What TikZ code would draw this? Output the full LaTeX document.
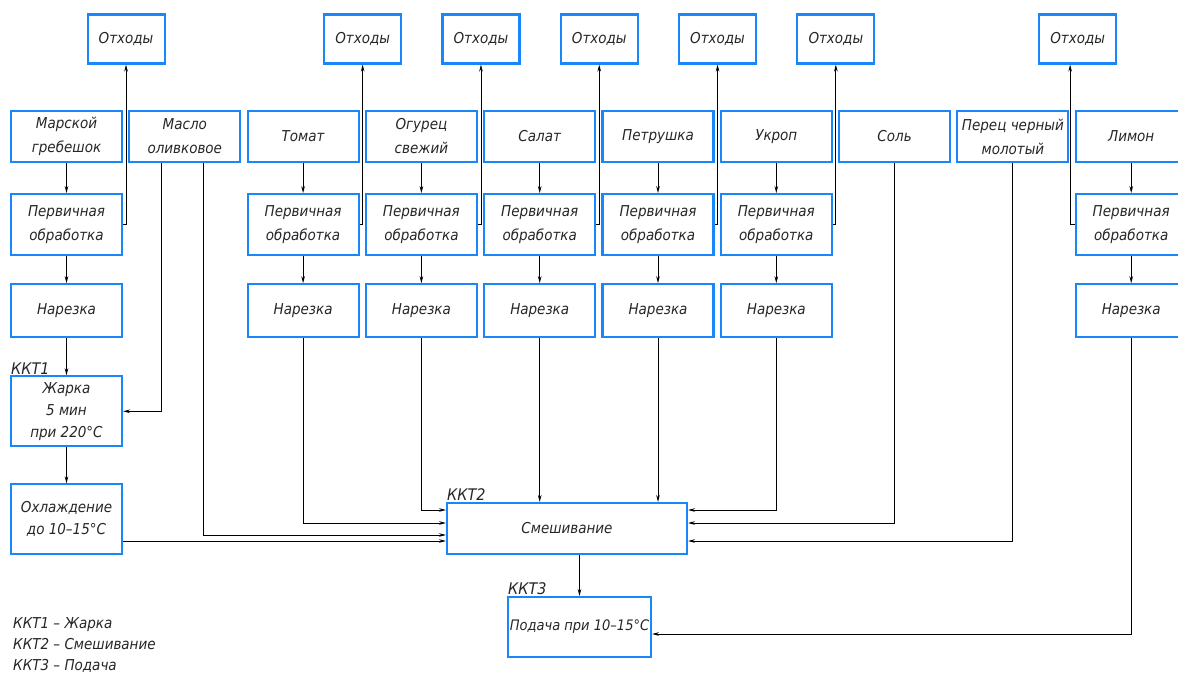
\documentclass[tikz,border=0pt]{standalone}
\usepackage{fontspec}
\setmainfont{DejaVu Sans Condensed}
\usepackage{tikz}
\usetikzlibrary{arrows.meta, positioning}
\definecolor{boxblue}{RGB}{25,135,250}

\begin{document}
\begin{tikzpicture}[x=1pt, y=-1pt, node distance=30pt and 5.2pt, >={Stealth[length=7pt,width=3.6pt]},
    font=\fontsize{15}{24}\selectfont\itshape]
    \tikzstyle{box} = [rectangle, draw=boxblue, line width=2.1pt, align=center, inner sep=1pt, text=black!85]
    \tikzstyle{food} = [box, minimum width=111pt, minimum height=51pt]
    \tikzstyle{prim} = [box, minimum width=111pt, minimum height=61pt]
    \tikzstyle{cut} = [box, minimum width=111pt, minimum height=53pt]
    \tikzstyle{waste} = [box, minimum width=77pt, minimum height=49pt]
    \tikzstyle{heat} = [box, minimum width=111pt, minimum height=70pt, font=\fontsize{15}{22}\selectfont\itshape]
    \tikzstyle{ccp} = [anchor=south west, inner sep=1pt, text=black!85, font=\fontsize{16}{18}\selectfont\itshape]
    \tikzstyle{link} = [->, line width=0.9pt]

    \useasboundingbox (0,0) rectangle (1178,679);

    % ingredients
    \node (scallop)  [food] at (66.5,136.5)      {Марской\\гребешок};
    \node (oil)      [food, right=of scallop]    {Масло\\оливковое};
    \node (tomato)   [food, right=of oil]        {Томат};
    \node (cucumber) [food, right=of tomato]     {Огурец\\свежий};
    \node (salad)    [food, right=of cucumber]   {Салат};
    \node (parsley)  [food, right=of salad]      {Петрушка};
    \node (dill)     [food, right=of parsley]    {Укроп};
    \node (salt)     [food, right=of dill]       {Соль};
    \node (pepper)   [food, right=of salt]       {Перец черный\\молотый};
    \node (lemon)    [food, right=of pepper]     {Лимон};

    % primary treatment
    \node (pscallop)  [prim, below=of scallop]  {Первичная\\обработка};
    \node (ptomato)   [prim, below=of tomato]   {Первичная\\обработка};
    \node (pcucumber) [prim, below=of cucumber] {Первичная\\обработка};
    \node (psalad)    [prim, below=of salad]    {Первичная\\обработка};
    \node (pparsley)  [prim, below=of parsley]  {Первичная\\обработка};
    \node (pdill)     [prim, below=of dill]     {Первичная\\обработка};
    \node (plemon)    [prim, below=of lemon]    {Первичная\\обработка};

    % cutting
    \node (cscallop)  [cut, below=27pt of pscallop]  {Нарезка};
    \node (ctomato)   [cut, below=27pt of ptomato]   {Нарезка};
    \node (ccucumber) [cut, below=27pt of pcucumber] {Нарезка};
    \node (csalad)    [cut, below=27pt of psalad]    {Нарезка};
    \node (cparsley)  [cut, below=27pt of pparsley]  {Нарезка};
    \node (cdill)     [cut, below=27pt of pdill]     {Нарезка};
    \node (clemon)    [cut, below=27pt of plemon]    {Нарезка};

    % waste
    \node (waste1) [waste, above=160pt of pscallop.east, xshift=3pt]  {Отходы};
    \node (waste2) [waste, above=160pt of ptomato.east, xshift=3pt]   {Отходы};
    \node (waste3) [waste, above=160pt of pcucumber.east, xshift=3pt] {Отходы};
    \node (waste4) [waste, above=160pt of psalad.east, xshift=3pt]    {Отходы};
    \node (waste5) [waste, above=160pt of pparsley.east, xshift=3pt]  {Отходы};
    \node (waste6) [waste, above=160pt of pdill.east, xshift=3pt]     {Отходы};
    \node (waste7) [waste, above=160pt of plemon.west, xshift=3pt]    {Отходы};

    % frying, cooling, mixing, serving
    \node (fry)   [heat, below=37pt of cscallop] {Жарка\\5 мин\\при 220°C};
    \node (cool)  [heat, below=36pt of fry]      {Охлаждение\\до 10--15°C};
    \node (mix)   [box, minimum width=240pt, minimum height=51pt] at (567,528.5) {Смешивание};
    \node (serve) [box, minimum width=143pt, minimum height=60pt, inner sep=0pt,
        font=\fontsize{14.5}{20}\selectfont\itshape] at (579.5,627) {Подача при 10--15°C};

    \node (ccp1) [ccp] at (fry.north west)   {ККТ1};
    \node (ccp2) [ccp] at (mix.north west)   {ККТ2};
    \node (ccp3) [ccp] at (serve.north west) {ККТ3};
    \node (legend) [anchor=north west, align=left, inner sep=0pt, text=black!85,
        font=\fontsize{15}{21}\selectfont\itshape] at (13,617)
        {ККТ1 -- Жарка\\ККТ2 -- Смешивание\\ККТ3 -- Подача};

    \coordinate (ml1) at ([yshift=18.5pt]mix.west);
    \coordinate (ml2) at ([yshift=5.5pt]mix.west);
    \coordinate (ml3) at ([yshift=-6.5pt]mix.west);
    \coordinate (ml4) at ([yshift=-12.5pt]mix.west);
    \coordinate (mr1) at ([yshift=18.5pt]mix.east);
    \coordinate (mr2) at ([yshift=5.5pt]mix.east);
    \coordinate (mr3) at ([yshift=-12.5pt]mix.east);
    \coordinate (sr)  at ([yshift=-7pt]serve.east);

    \draw [link] (scallop) -- (pscallop);
    \draw [link] (pscallop) -- (cscallop);
    \draw [link] (cscallop) -- (fry);
    \draw [link] (fry) -- (cool);
    \draw [link] (tomato) -- (ptomato);
    \draw [link] (ptomato) -- (ctomato);
    \draw [link] (cucumber) -- (pcucumber);
    \draw [link] (pcucumber) -- (ccucumber);
    \draw [link] (salad) -- (psalad);
    \draw [link] (psalad) -- (csalad);
    \draw [link] (parsley) -- (pparsley);
    \draw [link] (pparsley) -- (cparsley);
    \draw [link] (dill) -- (pdill);
    \draw [link] (pdill) -- (cdill);
    \draw [link] (lemon) -- (plemon);
    \draw [link] (plemon) -- (clemon);

    \draw [link] (pscallop.east) -| (waste1.south);
    \draw [link] (ptomato.east) -| (waste2.south);
    \draw [link] (pcucumber.east) -| (waste3.south);
    \draw [link] (psalad.east) -| (waste4.south);
    \draw [link] (pparsley.east) -| (waste5.south);
    \draw [link] (pdill.east) -| (waste6.south);
    \draw [link] (plemon.west) -| ([xshift=-7.5pt]waste7.south);

    \draw [link] ([xshift=-23pt]oil.south) |- (fry.east);
    \draw [link] ([xshift=19pt]oil.south) |- (ml3);
    \draw [link] (ccucumber.south) |- (ml1);
    \draw [link] (ctomato.south) |- (ml2);
    \draw [link] (cool.east |- ml4) -- (ml4);
    \draw [link] (csalad.south) -- (csalad.south |- mix.north);
    \draw [link] (cparsley.south) -- (cparsley.south |- mix.north);
    \draw [link] (cdill.south) |- (mr1);
    \draw [link] (salt.south) |- (mr2);
    \draw [link] (pepper.south) |- (mr3);
    \draw [link] (serve.north |- mix.south) -- (serve.north);
    \draw [link] (clemon.south) |- (sr);
\end{tikzpicture}
\end{document}
